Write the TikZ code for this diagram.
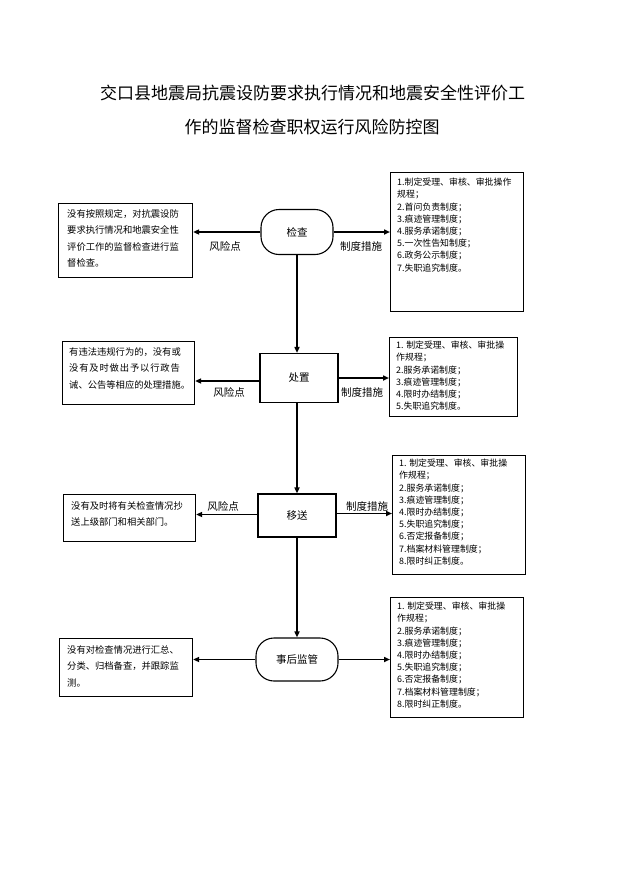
\documentclass[tikz,border=0pt]{standalone}
\usepackage{fontspec}
\setmainfont{Noto Sans CJK SC}
\usetikzlibrary{arrows.meta}
\begin{document}
\begin{tikzpicture}[x=1pt,y=-1pt,
  box/.style={draw, line width=1.1pt, inner sep=0pt, anchor=north west},
  stepbox/.style={draw, line width=1.1pt, inner sep=0pt, font=\fontsize{10.5}{12}\selectfont},
  rnd/.style={stepbox, rounded corners=18pt},
  desc/.style={font=\fontsize{9.3}{16.5}\selectfont, align=left, inner sep=0pt, anchor=north west},
  meas/.style={font=\fontsize{8.9}{12.2}\selectfont, align=left, inner sep=0pt, anchor=north west},
  lab/.style={font=\fontsize{10.5}{12}\selectfont, inner sep=0pt},
  arr/.style={line width=1.5pt, -{Triangle[length=6pt,width=5pt]}},
  vln/.style={line width=1.8pt, -{Triangle[length=6pt,width=5pt]}},
  ttl/.style={font=\fontsize{17}{20}\selectfont, inner sep=0pt}
]
\useasboundingbox (0,0) rectangle (621,878);
\fill[white] (0,0) rectangle (621,878);

% title
\node[ttl] (t1) at (312.5,93) {交口县地震局抗震设防要求执行情况和地震安全性评价工};
\node[ttl] (t2) at (312,127) {作的监督检查职权运行风险防控图};

% central flow
\node[rnd, minimum width=72pt, minimum height=45pt] (jc) at (297,232) {检查};
\node[stepbox, minimum width=78pt, minimum height=49pt] (cz) at (299,378) {处置};
\node[stepbox, minimum width=78pt, minimum height=43pt] (ys) at (297,515.5) {移送};
\node[rnd, minimum width=82pt, minimum height=43pt] (sh) at (297,659.5) {事后监管};

% left boxes (risk points)
\node[box, minimum width=134pt, minimum height=74pt] (l1) at (58,203) {};
\node[desc] (l1t) at (67,209) {没有按照规定，对抗震设防\\要求执行情况和地震安全性\\评价工作的监督检查进行监\\督检查。};
\node[box, minimum width=132pt, minimum height=63pt] (l2) at (62,341) {};
\node[desc] (l2t) at (69,347) {有违法违规行为的，没有或\\{\addfontfeature{LetterSpace=9}没有及时做出予以行政告}\\诫、公告等相应的处理措施。};
\node[box, minimum width=132pt, minimum height=47pt] (l3) at (63,494) {};
\node[desc] (l3t) at (71,501) {没有及时将有关检查情况抄\\送上级部门和相关部门。};
\node[box, minimum width=133pt, minimum height=58pt] (l4) at (59,638) {};
\node[desc] (l4t) at (67,645) {没有对检查情况进行汇总、\\分类、归档备查，并跟踪监\\测。};

% right boxes (measures)
\node[box, minimum width=133pt, minimum height=139pt] (r1) at (390,172) {};
\node[meas] (r1t) at (397,178) {1.制定受理、审核、审批操作\\规程；\\2.首问负责制度；\\3.痕迹管理制度；\\4.服务承诺制度；\\5.一次性告知制度；\\6.政务公示制度；\\7.失职追究制度。};
\node[box, minimum width=128pt, minimum height=79pt] (r2) at (389,337) {};
\node[meas] (r2t) at (396,341) {1. 制定受理、审核、审批操\\作规程；\\2.服务承诺制度；\\3.痕迹管理制度；\\4.限时办结制度；\\5.失职追究制度。};
\node[box, minimum width=133pt, minimum height=119pt] (r3) at (392,455) {};
\node[meas] (r3t) at (399,459) {1. 制定受理、审核、审批操\\作规程；\\2.服务承诺制度；\\3.痕迹管理制度；\\4.限时办结制度；\\5.失职追究制度；\\6.否定报备制度；\\7.档案材料管理制度；\\8.限时纠正制度。};
\node[box, minimum width=133pt, minimum height=120pt] (r4) at (390,597) {};
\node[meas] (r4t) at (397,602) {1. 制定受理、审核、审批操\\作规程；\\2.服务承诺制度；\\3.痕迹管理制度；\\4.限时办结制度；\\5.失职追究制度；\\6.否定报备制度；\\7.档案材料管理制度；\\8.限时纠正制度。};

% labels
\node[lab] (f1) at (225,246) {风险点};
\node[lab] (m1) at (361,246) {制度措施};
\node[lab] (f2) at (229,392) {风险点};
\node[lab] (m2) at (362,392) {制度措施};
\node[lab] (f3) at (223,506) {风险点};
\node[lab] (m3) at (367,506) {制度措施};

% connectors
\draw[arr] (jc.west) -- (jc.west -| l1.east);
\draw[arr] (jc.east) -- (jc.east -| r1.west);
\draw[vln] (jc.south) -- (jc.south |- cz.north);
\draw[arr] ([yshift=-3pt]cz.west) -- ([yshift=-3pt]cz.west -| l2.east);
\draw[arr] (cz.east) -- (cz.east -| r2.west);
\draw[vln] (cz.south -| jc.south) -- (jc.south |- ys.north);
\draw[arr] ([yshift=1pt]ys.west) -- ([yshift=1pt]ys.west -| l3.east);
\draw[arr] ([yshift=2pt]ys.east) -- ([yshift=2pt]ys.east -| r3.west);
\draw[vln] (ys.south) -- (ys.south |- sh.north);
\draw[arr] (sh.west) -- (sh.west -| l4.east);
\draw[arr] (sh.east) -- (sh.east -| r4.west);
\end{tikzpicture}
\end{document}
